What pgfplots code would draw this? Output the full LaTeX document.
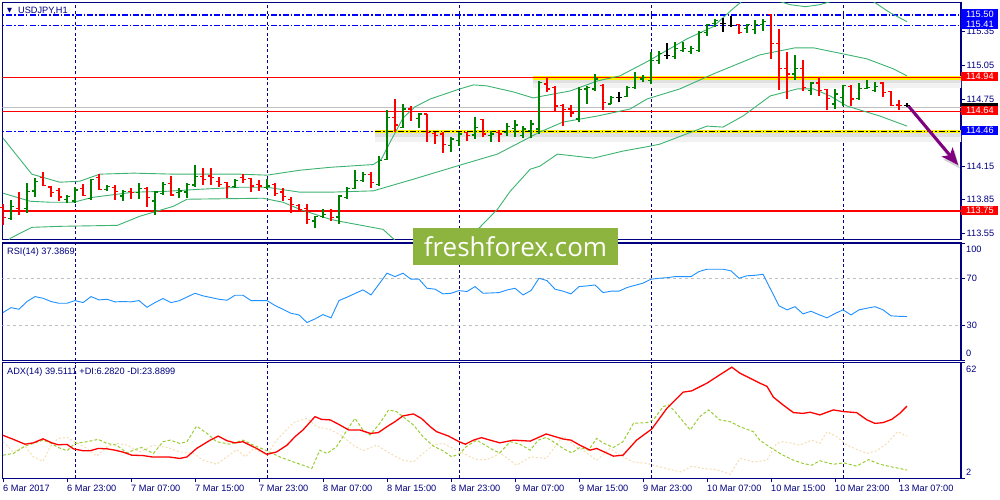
\documentclass[border=0pt]{standalone}
\usepackage{fontspec}
\setmainfont{Liberation Sans}
\newfontfamily\wmfont{Open Sans}
\newfontfamily\symfont{DejaVu Sans}
\usepackage{pgfplots}
\usepackage{pgfplotstable}
\pgfplotsset{compat=1.18}
\usetikzlibrary{arrows.meta}

\definecolor{mtnavy}{RGB}{0,0,128}
\definecolor{barup}{RGB}{0,128,0}
\definecolor{bardn}{RGB}{255,0,0}
\definecolor{bband}{RGB}{60,179,113}
\definecolor{rsiblue}{RGB}{30,144,255}
\definecolor{diplus}{RGB}{154,205,50}
\definecolor{diminus}{RGB}{245,222,179}
\definecolor{lvlblue}{RGB}{0,0,255}
\definecolor{wmgreen}{RGB}{141,180,62}
\definecolor{arrowpurple}{RGB}{128,0,128}
\definecolor{silverc}{RGB}{192,192,192}

\newcommand\tickfont{\fontsize{9.2}{11}\selectfont}

\pgfdeclareplotmark{ohlcopen}{\pgfpathmoveto{\pgfqpoint{-3pt}{0pt}}\pgfpathlineto{\pgfqpoint{0pt}{0pt}}\pgfusepathqstroke}
\pgfdeclareplotmark{ohlcclose}{\pgfpathmoveto{\pgfqpoint{0pt}{0pt}}\pgfpathlineto{\pgfqpoint{3pt}{0pt}}\pgfusepathqstroke}

\tikzset{mtdashdot/.style={dash pattern=on 6pt off 2pt on 1.5pt off 2pt, line width=1.1pt}}

\pgfplotsset{
  mtbase/.style={
    scale only axis, width=958.7pt, xmin=-0.0875, xmax=119.75,
    axis line style={draw=mtnavy, line width=1.2pt},
    tick style={draw=mtnavy, line width=0.8pt},
    tick align=outside, major tick length=4pt,
    ytick pos=right, yticklabel pos=right,
    xtick pos=left,
    tick label style={font=\tickfont, text=mtnavy},
    yticklabel style={anchor=west, inner xsep=1.5pt},
    extra x ticks={9,33,57,81,105},
    extra x tick labels={},
    extra x tick style={grid=major, major tick length=0pt},
    major grid style={draw=mtnavy, dash pattern=on 3pt off 2.5pt, line width=0.9pt},
  },
}

% high-low line with open tick (left) and close tick (right)
\newcommand\ohlcbars[2]{%
  \addplot[draw=#2, only marks, mark=ohlcopen, mark options={draw=#2, line width=1.2pt},
    error bars/.cd, y dir=both, y explicit, error mark=none, error bar style={draw=#2, line width=1.3pt}]
    table[x=i, y=o, y error plus expr=\thisrow{h}-\thisrow{o}, y error minus expr=\thisrow{o}-\thisrow{l}] {#1};
  \addplot[draw=#2, only marks, mark=ohlcclose, mark options={draw=#2, line width=1.2pt}]
    table[x=i, y=c] {#1};
}

% bullish bars
\pgfplotstableread{
i o h l c
1 113.682 113.846 113.676 113.789
3 113.772 114.004 113.736 113.926
4 113.929 114.049 113.879 114.013
8 113.855 113.891 113.819 113.882
9 113.840 113.960 113.825 113.938
11 113.861 114.034 113.855 114.028
13 113.944 113.980 113.929 113.968
15 113.884 113.938 113.840 113.924
17 113.915 114.004 113.861 113.953
19 113.840 113.929 113.714 113.920
20 113.906 114.013 113.891 113.989
22 113.915 113.951 113.870 113.929
23 113.920 114.004 113.870 113.989
24 113.983 114.159 113.968 114.058
29 113.968 114.040 113.960 114.019
33 113.960 114.034 113.944 113.974
39 113.661 113.705 113.601 113.700
40 113.700 113.772 113.691 113.721
42 113.696 113.891 113.631 113.884
43 113.870 113.968 113.855 113.951
44 113.951 114.115 113.944 114.019
45 114.019 114.094 114.010 114.079
47 113.989 114.243 113.974 114.198
48 114.213 114.654 114.204 114.586
50 114.497 114.705 114.488 114.661
52 114.577 114.625 114.488 114.616
56 114.332 114.413 114.273 114.392
57 114.377 114.457 114.332 114.437
59 114.428 114.586 114.392 114.497
61 114.422 114.466 114.362 114.437
63 114.452 114.535 114.422 114.506
64 114.488 114.565 114.407 114.517
65 114.422 114.506 114.398 114.482
66 114.466 114.565 114.398 114.526
67 114.482 114.914 114.437 114.900
72 114.571 114.855 114.541 114.833
73 114.840 114.869 114.705 114.855
74 114.840 114.974 114.824 114.929
76 114.705 114.780 114.705 114.765
78 114.774 114.869 114.765 114.855
79 114.855 114.989 114.840 114.944
80 114.929 114.965 114.905 114.944
81 114.914 115.168 114.884 115.093
82 115.093 115.183 115.064 115.153
84 115.132 115.258 115.108 115.198
85 115.183 115.258 115.168 115.204
86 115.174 115.222 115.153 115.198
87 115.183 115.353 115.174 115.347
88 115.347 115.422 115.312 115.413
89 115.422 115.466 115.392 115.451
93 115.377 115.422 115.341 115.413
94 115.371 115.451 115.332 115.413
95 115.413 115.460 115.353 115.442
99 114.974 115.144 114.923 115.019
101 114.824 114.905 114.786 114.893
104 114.705 114.840 114.661 114.795
105 114.765 114.876 114.690 114.869
107 114.756 114.893 114.744 114.846
108 114.846 114.920 114.840 114.855
109 114.824 114.900 114.810 114.864
}\ohlcup

% bearish bars
\pgfplotstableread{
i o h l c
0 113.783 113.810 113.625 113.694
2 113.772 113.920 113.712 113.756
5 114.049 114.094 113.974 113.980
6 113.965 113.974 113.875 113.915
7 113.935 113.951 113.840 113.875
10 113.951 113.989 113.884 113.891
12 114.049 114.079 113.938 113.944
14 113.962 113.980 113.849 113.924
16 113.924 113.951 113.861 113.915
18 113.953 113.965 113.789 113.870
21 113.998 114.063 113.884 113.893
25 114.058 114.130 113.980 114.034
26 114.063 114.130 113.980 114.049
27 114.010 114.058 113.960 113.989
28 114.004 114.013 113.870 113.968
30 114.049 114.079 114.004 114.034
31 114.040 114.043 113.924 113.974
32 113.989 114.028 113.929 113.974
34 113.989 113.998 113.884 113.909
35 113.920 113.953 113.840 113.879
36 113.855 113.879 113.736 113.810
37 113.801 113.810 113.750 113.765
38 113.772 113.810 113.631 113.676
41 113.750 113.772 113.661 113.691
46 114.079 114.094 113.951 114.004
49 114.586 114.750 114.457 114.517
51 114.661 114.685 114.556 114.636
53 114.616 114.616 114.362 114.452
54 114.443 114.457 114.347 114.422
55 114.437 114.457 114.264 114.347
58 114.452 114.457 114.377 114.422
60 114.565 114.571 114.407 114.437
62 114.452 114.475 114.362 114.437
68 114.884 114.935 114.810 114.840
69 114.855 114.864 114.645 114.687
70 114.690 114.705 114.506 114.654
71 114.661 114.696 114.586 114.625
75 114.869 114.884 114.654 114.721
92 115.413 115.422 115.332 115.341
96 115.502 115.511 115.108 115.249
97 115.249 115.377 114.833 115.019
98 115.025 115.174 114.750 114.974
100 115.025 115.102 114.824 114.855
102 114.893 114.935 114.774 114.824
103 114.833 114.840 114.654 114.756
106 114.864 114.876 114.690 114.750
110 114.893 114.905 114.765 114.810
111 114.815 114.824 114.685 114.690
112 114.696 114.744 114.654 114.690
}\ohlcdn

% unchanged (doji) bars
\pgfplotstableread{
i o h l c
77 114.765 114.815 114.721 114.765
83 115.138 115.251 115.108 115.138
90 115.422 115.473 115.347 115.422
91 115.406 115.490 115.392 115.406
113 114.690 114.714 114.676 114.690
}\ohlcdj

\pgfplotstableread{
i p
0 114.401
3.6 114.079
7.1 114.007
9.6 114.016
12.1 114.079
16.3 114.088
21.3 114.079
29.6 114.079
33 114.070
37.1 114.114
40.9 114.140
46.3 114.165
47.3 114.213
48.5 114.380
50 114.580
51.5 114.680
53.4 114.750
57.1 114.840
58.8 114.876
60.5 114.867
63.8 114.813
66.3 114.759
67.5 114.777
70.9 114.822
74.3 114.911
77.1 114.956
80.5 115.083
85.5 115.287
88.75 115.395
91.25 115.556
93 115.660
94.6 115.717
96.8 115.627
98.4 115.592
100.3 115.574
102.1 115.592
103.8 115.627
106.3 115.690
108.8 115.619
110.9 115.520
113 115.440
}\bbup

\pgfplotstableread{
i p
0 113.909
3.4 113.837
5.9 113.828
8.8 113.828
11.3 113.873
16.3 113.918
20.5 113.926
24.6 113.944
29.6 113.962
33 113.962
37.1 113.918
40.9 113.918
46.3 113.930
51.3 114.034
57.1 114.159
61.8 114.258
67.1 114.455
70 114.544
74.3 114.598
78.4 114.661
80.5 114.750
84.6 114.840
88.8 114.974
94.6 115.144
99 115.207
101.3 115.207
105 115.153
108 115.108
111.3 115.019
113 114.956
}\bbmid

\pgfplotstableread{
i p
0 113.400
0.9 113.506
3.6 113.604
7.1 113.613
14.3 113.622
17.1 113.703
21.3 113.792
23 113.855
32.5 113.864
35 113.828
37.1 113.765
40.9 113.676
42.1 113.658
47.5 113.586
49.6 113.450
54.6 113.300
59.6 113.604
61.8 113.765
63.4 113.926
65.9 114.123
67.1 114.150
69.3 114.258
73.8 114.222
77.5 114.285
80.9 114.329
82.1 114.347
88 114.508
90 114.499
92.5 114.598
95.9 114.777
99.3 114.840
101.3 114.840
103.4 114.777
105.5 114.687
109.6 114.598
113 114.508
}\bblow

\pgfplotstableread{
i v
0 40.8
1 45.0
2 43.6
3 50.2
4 54.4
5 53.0
6 50.2
7 48.7
8 48.7
9 51.0
10 49.3
11 54.4
12 51.6
13 52.1
14 49.9
15 50.2
16 49.9
17 51.0
18 45.3
19 49.3
20 52.7
21 49.3
22 50.8
23 54.0
24 57.2
25 55.0
26 53.6
27 52.1
28 51.3
29 55.5
30 55.5
31 51.0
32 51.0
33 51.0
34 46.8
35 43.6
36 40.2
37 38.8
38 32.3
39 35.4
40 39.1
41 36.3
42 51.0
43 53.9
44 57.0
45 60.1
46 55.8
47 65.0
48 74.3
49 71.4
50 74.3
51 69.2
52 69.2
53 61.5
54 60.7
55 56.7
56 57.2
57 59.5
58 58.7
59 62.9
60 57.2
61 57.5
62 57.8
63 60.0
64 61.5
65 55.8
66 59.5
67 70.0
68 68.0
69 60.7
70 59.0
71 56.7
72 62.9
73 63.5
74 64.3
75 57.8
76 59.0
77 59.0
78 62.1
79 64.0
80 65.8
81 69.2
82 70.0
83 70.5
84 71.4
85 71.4
86 71.4
87 75.7
88 77.7
89 77.7
90 77.7
91 76.3
92 70.0
93 72.1
94 72.5
95 73.4
96 60.0
97 46.5
98 43.1
99 45.8
100 39.7
101 41.9
102 39.0
103 36.3
104 40.0
105 43.1
106 38.8
107 43.1
108 44.5
109 45.8
110 43.1
111 38.0
112 37.6
113 37.4
}\rsitab

\pgfplotstableread{
i v
0 24.3
1.3 22.2
2.75 19.7
3.8 20.4
5 22.5
6.1 20.4
6.9 19.4
8 19.6
8.8 17.3
10 16.3
10.9 16.3
11.9 17.5
13 17.3
14 16.6
15 15.6
16.1 14.0
17.5 13.8
18.6 13.1
19.6 13.1
20.7 13.1
22.1 12.3
23 13.1
24.2 17.5
25.9 21.8
26.9 23.9
28 21.5
29 20.4
30 21.0
31.7 17.5
33 14.4
34.2 15.7
35.5 19.2
36.5 23.6
37.5 27.1
39 34.0
39.8 32.6
40.9 32.3
42.1 29.7
43.2 27.1
44.6 27.1
45.9 25.3
46.9 25.7
48 28.8
49 31.4
50 34.4
51.3 35.4
52.3 33.1
53.4 28.8
54.2 26.2
55.7 23.9
57 21.0
57.8 19.7
58.8 21.8
59.8 23.1
60.9 21.8
62.1 20.4
63.8 21.8
65.9 21.3
67.9 25.0
70 22.4
71 21.8
72.1 19.2
73.4 16.6
74.2 17.5
76.3 13.5
77.5 14.0
79.2 21.8
81.1 27.6
83 38.4
85 46.7
86.1 47.4
88 51.4
89.6 55.7
91.1 59.7
92.1 56.6
94.6 51.4
95.5 49.7
96.3 44.1
97.5 40.1
98.8 36.1
100 35.7
100.9 36.3
102.1 34.9
103.8 37.5
105.1 36.6
106.7 36.1
108 32.3
109 30.5
110 30.9
111.1 32.6
112.1 35.7
113 39.5
}\adxtab

\pgfplotstableread{
i v
0 14.0
1.3 14.9
2.75 18.7
3.8 20.1
5 21.8
5.9 20.4
6.9 18.0
8 16.3
9 20.1
10.5 21.0
11.9 22.2
13 20.1
14.2 19.2
15.5 15.2
16.3 16.6
17.3 18.0
18.8 14.9
20 21.0
20.9 21.8
22.1 20.1
23 21.0
24.2 29.1
25.5 25.3
26.7 21.0
28.4 19.7
30 21.8
31.3 19.2
33 16.3
34.6 13.1
36.3 10.5
37.5 8.8
38.6 7.1
39.6 16.6
40.5 14.9
41.7 18.4
43 27.1
44 33.1
45 27.1
45.9 24.5
47.1 30.5
48.2 37.5
49.2 36.6
50.25 33.1
51.3 29.7
52.5 23.6
53.8 18.7
55 16.3
56.1 13.1
57.1 14.9
57.9 18.4
59.2 21.8
60.3 19.2
61.3 16.6
62.1 15.2
63.4 21.0
64.6 19.7
65.9 16.6
66.9 21.8
67.9 23.2
69 20.4
70 17.5
71.1 15.2
72.1 18.0
73.2 16.6
74.2 22.7
75 20.4
76.3 18.0
77.5 21.0
78.8 30.5
80.5 30.9
81.3 32.3
82.5 39.2
83.2 40.1
84 36.6
85.9 27.1
87.1 34.0
88.2 37.5
89.6 32.3
90.9 31.4
92.1 28.8
93.8 26.2
94.6 21.8
96.1 17.5
97.5 14.0
98.8 11.4
100 9.7
101.1 8.8
102.1 11.1
103.8 9.3
105.1 10.0
106.7 8.3
108.2 11.7
109.6 9.3
111.1 7.9
112.1 7.1
113 6.3
}\diptab

\pgfplotstableread{
i v
0 21.0
1.3 15.7
2.75 18.7
3.8 13.1
5 10.9
5.9 18.4
6.9 22.7
8 23.2
9 21.0
10.5 17.5
11.7 13.5
13 18.4
14.2 20.1
15.5 19.2
17.1 15.7
18.8 19.2
20.5 18.0
22.1 15.7
23.8 14.9
25 11.4
26.7 9.3
28 13.1
29.2 16.9
30.3 13.1
31.3 17.5
33 14.0
34.2 21.8
36.3 30.9
38 33.1
39.2 28.8
40.9 27.4
42.5 23.6
43.8 19.2
45 16.3
46.7 19.2
48.4 14.9
50 11.4
51.3 10.5
52.5 14.9
53.8 19.2
55 20.1
56.3 17.5
58 14.0
59.2 11.7
60.5 11.7
61.7 14.0
62.1 15.2
64.2 8.8
65.9 13.1
67.9 12.3
70 23.9
71.7 18.0
72.5 16.6
74.2 11.4
75.9 17.5
77.1 14.0
78.8 10.5
80.5 9.7
82.1 7.9
83.8 6.2
84.8 5.3
86.1 8.3
87.5 7.1
89.2 6.5
90.9 4.1
92.1 12.3
93.8 10.5
95.5 11.4
96.7 20.1
97.5 21.0
98.4 20.4
99.6 19.2
101.1 21.8
102.1 20.1
103 26.2
104.2 23.6
105.5 19.2
106.7 17.0
108 14.9
109.2 16.3
110.5 20.1
111.8 26.2
112.7 24.4
113 23.9
}\dimtab

\begin{document}
\begin{tikzpicture}
\useasboundingbox (0pt,0pt) rectangle (1000pt,-500pt);
\fill[white] (0pt,0pt) rectangle (1000pt,-500pt);

% ---------------- price panel ----------------
\begin{axis}[mtbase, at={(2.3pt,-2.5pt)}, anchor=north west, height=237pt,
  ymin=113.4955, ymax=115.6116, xtick=\empty,
  ytick={113.55,113.85,114.15,114.45,114.75,115.05,115.35},
  yticklabels={113.55,113.85,114.15,,114.75,115.05,115.35}]
  % horizontal levels
  \draw[lvlblue, mtdashdot] (axis cs:-1,115.50) -- (axis cs:121,115.50);
  \draw[lvlblue, mtdashdot] (axis cs:-1,115.41) -- (axis cs:121,115.41);
  \draw[silverc, line width=1pt] (axis cs:-1,114.67) -- (axis cs:121,114.67);
  \draw[bardn, line width=1.1pt] (axis cs:-1,114.64) -- (axis cs:121,114.64);
  \draw[bardn, line width=1.1pt] (axis cs:-1,113.75) -- (axis cs:121,113.75);
  \draw[lvlblue, mtdashdot] (axis cs:-1,114.46) -- (axis cs:46.5,114.46);
  % highlighted levels with soft shadow
  \draw[black!5, line width=6pt] (axis cs:66.25,114.875) -- (axis cs:121,114.875);
  \draw[black!12, line width=4pt] (axis cs:66.25,114.91) -- (axis cs:121,114.91);
  \draw[yellow, line width=3.6pt] (axis cs:66.25,114.94) -- (axis cs:121,114.94);
  \draw[bardn, line width=1.1pt] (axis cs:-1,114.94) -- (axis cs:121,114.94);
  \draw[black!5, line width=6pt] (axis cs:46.5,114.395) -- (axis cs:121,114.395);
  \draw[black!12, line width=4pt] (axis cs:46.5,114.43) -- (axis cs:121,114.43);
  \draw[yellow, line width=3.6pt] (axis cs:46.5,114.46) -- (axis cs:121,114.46);
  \draw[black, mtdashdot] (axis cs:46.5,114.46) -- (axis cs:121,114.46);
  % Bollinger bands
  \addplot[bband, line width=0.9pt] table[x=i, y=p] {\bbup};
  \addplot[bband, line width=0.9pt] table[x=i, y=p] {\bbmid};
  \addplot[bband, line width=0.9pt] table[x=i, y=p] {\bblow};
  % OHLC bars
  \ohlcbars{\ohlcup}{barup}
  \ohlcbars{\ohlcdn}{bardn}
  \ohlcbars{\ohlcdj}{black}
  % arrow with shadow
  \draw[black!18, line width=3pt, -{Stealth[length=17pt, width=14pt, inset=4pt]}] (axis cs:113.6,114.655) -- (axis cs:119.6,114.13);
  \draw[arrowpurple, line width=3pt, -{Stealth[length=17pt, width=14pt, inset=4pt]}] (axis cs:113.2,114.685) -- (axis cs:119.4,114.16);
  % coordinates for price boxes
  \coordinate (b1) at (axis cs:119.75,115.51);
  \coordinate (b2) at (axis cs:119.75,115.42);
  \coordinate (b3) at (axis cs:119.75,114.95);
  \coordinate (b4) at (axis cs:119.75,114.67);
  \coordinate (b5) at (axis cs:119.75,114.645);
  \coordinate (b6) at (axis cs:119.75,114.47);
  \coordinate (b7) at (axis cs:119.75,113.755);
\end{axis}

\begin{scope}[every node/.style={anchor=west, inner sep=0pt, minimum width=37pt, minimum height=9.3pt, font=\tickfont, text=white, xshift=0.2pt}]
  \node[fill=lvlblue] at (b1) {115.50};
  \node[fill=lvlblue] at (b2) {115.41};
  \node[fill=bardn] at (b3) {114.94};
  \node[fill=black] at (b4) {};
  \node[fill=bardn] at (b5) {114.64};
  \node[fill=lvlblue] at (b6) {114.46};
  \node[fill=bardn] at (b7) {113.75};
\end{scope}

% ---------------- RSI panel ----------------
\begin{axis}[mtbase, at={(2.3pt,-243pt)}, anchor=north west, height=117.5pt,
  ymin=0, ymax=100, xtick=\empty,
  ytick={0,30,70,100}, yticklabels={,30,70,}]
  \draw[silverc, dash pattern=on 3pt off 3pt, line width=0.9pt] (axis cs:-1,70) -- (axis cs:121,70);
  \draw[silverc, dash pattern=on 3pt off 3pt, line width=0.9pt] (axis cs:-1,30) -- (axis cs:121,30);
  \addplot[rsiblue, line width=0.9pt] table[x=i, y=v] {\rsitab};
\end{axis}

% ---------------- ADX panel ----------------
\begin{axis}[mtbase, at={(2.3pt,-362.7pt)}, anchor=north west, height=115.6pt,
  ymin=2, ymax=62,
  ytick={2,62}, yticklabels={,},
  xtick={0,8,...,112},
  xticklabels={6 Mar 2017,6 Mar 23:00,7 Mar 07:00,7 Mar 15:00,7 Mar 23:00,8 Mar 07:00,8 Mar 15:00,8 Mar 23:00,9 Mar 07:00,9 Mar 15:00,9 Mar 23:00,10 Mar 07:00,10 Mar 15:00,10 Mar 23:00,13 Mar 07:00},
  xticklabel style={anchor=north west, inner xsep=0pt, inner ysep=2.5pt}]
  \addplot[diminus, line width=1pt, dash pattern=on 2pt off 2pt] table[x=i, y=v] {\dimtab};
  \addplot[diplus, line width=1pt, dash pattern=on 3pt off 2pt] table[x=i, y=v] {\diptab};
  \addplot[bardn, line width=1.3pt] table[x=i, y=v] {\adxtab};
\end{axis}

% right-hand labels for indicator windows
\begin{scope}[every node/.style={anchor=west, inner sep=0pt, font=\tickfont, text=mtnavy}]
  \node at (966pt,-249.3pt) {100};
  \node at (966pt,-353.3pt) {0};
  \node at (966pt,-369.3pt) {62};
  \node at (966pt,-472.7pt) {2};
  % window titles
  \node at (18pt,-10.7pt) {USDJPY,H1};
  \node at (7pt,-251.7pt) {RSI(14) 37.3869};
  \node at (7pt,-371.7pt) {ADX(14) 39.5111 +DI:6.2820 -DI:23.8899};
\end{scope}
\node[inner sep=0pt, text=mtnavy, font=\symfont\fontsize{6.5}{7}\selectfont] at (9.6pt,-10.6pt) {▼};

% watermark
\fill[wmgreen] (413pt,-228pt) rectangle (618pt,-265pt);
\node[inner sep=0pt, text=white, font=\wmfont\fontsize{26}{30}\selectfont] at (515.5pt,-246.5pt) {freshforex.com};
\end{tikzpicture}
\end{document}
